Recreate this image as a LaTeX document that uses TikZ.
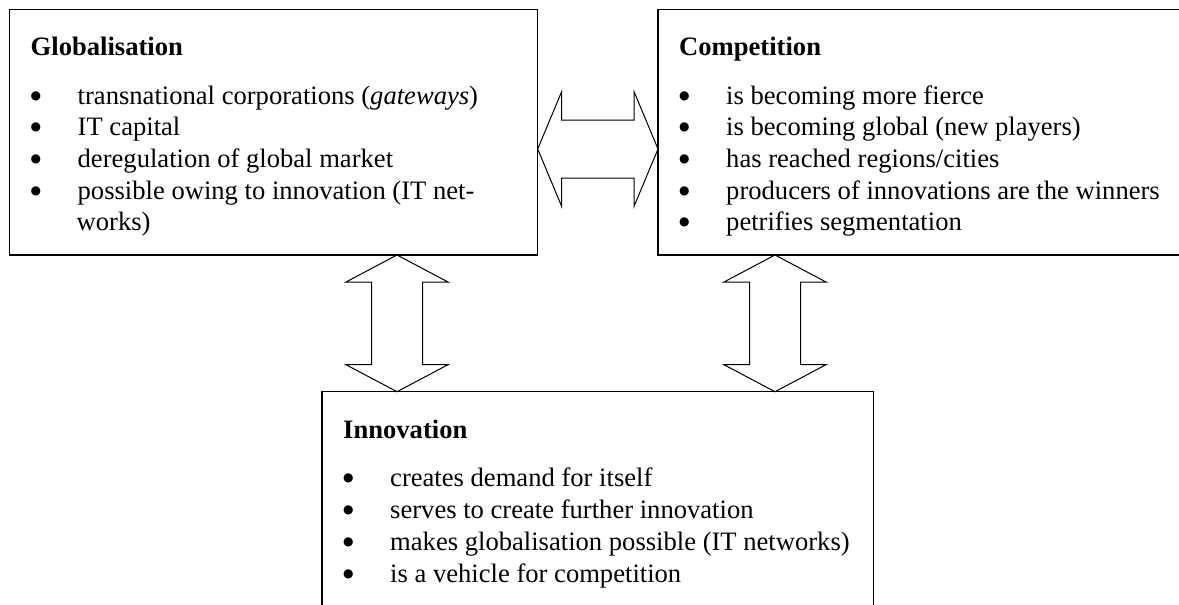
\documentclass[tikz,border=0pt]{standalone}
\usepackage{fontspec}
\setmainfont{Liberation Serif}
\newfontfamily\dotfont{DejaVu Sans}
\usetikzlibrary{positioning,calc}

\tikzset{
  box/.style={draw, line width=1.2pt, outer sep=0pt, inner sep=0pt},
  head/.style={anchor=base west, inner sep=0pt, font=\fontsize{26.6}{31.7}\selectfont\bfseries},
  entry/.style={anchor=base west, inner sep=0pt},
  fatarrow/.style={draw, line width=1pt, line join=miter}
}
\newcommand{\bul}{\makebox[47pt][l]{\raisebox{5pt}{\dotfont\fontsize{12}{12}\selectfont ●}}}

\begin{document}
\begin{tikzpicture}[x=1pt, y=-1pt, font=\fontsize{26.6}{31.7}\selectfont]
    \useasboundingbox (0,0) rectangle (1179,605);

    % the three boxes
    \node[box, minimum width=528.2pt, minimum height=245.5pt, anchor=north west] (glob) at (9.5,9.5) {};
    \node[box, minimum width=528.2pt, minimum height=245.5pt, anchor=north west] (comp) at (658,9.5) {};
    \node[box, minimum width=551.5pt, minimum height=240pt, anchor=north west] (innov) at (322,391.7) {};

    % titles
    \node[head] (globT) at ($(glob.north west)+(21,45.5)$) {Globalisation};
    \node[head] (compT) at ($(comp.north west)+(21,45.5)$) {Competition};
    \node[head] (innovT) at ($(innov.north west)+(21,46.5)$) {Innovation};

    % bullet points
    \foreach \txt [count=\i] in {transnational corporations (\textit{gateways}), IT capital,
        deregulation of global market, possible owing to innovation (IT net-}
        \node[entry] (glob-\i) at ($(glob.north west)+(21,94.5+31.7*\i-31.7)$) {\bul\txt};
    \node[entry] (glob-wrap) at ($(glob-4.base west)+(46,31.7)$) {works)};

    \foreach \txt [count=\i] in {is becoming more fierce, is becoming global (new players),
        has reached regions/cities, producers of innovations are the winners, petrifies segmentation}
        \node[entry] (comp-\i) at ($(comp.north west)+(21,94.5+31.7*\i-31.7)$) {\bul\txt};

    \foreach \txt [count=\i] in {creates demand for itself, serves to create further innovation,
        makes globalisation possible (IT networks), is a vehicle for competition}
        \node[entry] (innov-\i) at ($(innov.north west)+(21,94.3+32.3*\i-32.3)$) {\bul\txt};

    % double arrows
    \coordinate (gE) at ($(glob.north east)+(0,139.5)$);
    \coordinate (cW) at ($(comp.north west)+(0,139.5)$);
    \draw[fatarrow] (gE) -- ++(24,-57.5) -- ++(0,28.5) -- ($(cW)+(-24,-29)$) -- ++(0,-28.5) -- (cW)
        -- ++(-24,57.5) -- ++(0,-28.5) -- ($(gE)+(24,29)$) -- ++(0,28.5) -- cycle;

    \coordinate (gS) at ($(glob.south west)+(387.5,0)$);
    \coordinate (iN1) at ($(innov.north west)+(75,0)$);
    \draw[fatarrow] (gS) -- ++(51,27) -- ++(-25.5,0) -- ($(iN1)+(25.5,-27)$) -- ++(25.5,0) -- (iN1)
        -- ++(-51,-27) -- ++(25.5,0) -- ($(gS)+(-25.5,27)$) -- ++(-25.5,0) -- cycle;

    \coordinate (cS) at ($(comp.south west)+(117,0)$);
    \coordinate (iN2) at ($(innov.north west)+(453,0)$);
    \draw[fatarrow] (cS) -- ++(51,27) -- ++(-25.5,0) -- ($(iN2)+(25.5,-27)$) -- ++(25.5,0) -- (iN2)
        -- ++(-51,-27) -- ++(25.5,0) -- ($(cS)+(-25.5,27)$) -- ++(-25.5,0) -- cycle;
\end{tikzpicture}
\end{document}
